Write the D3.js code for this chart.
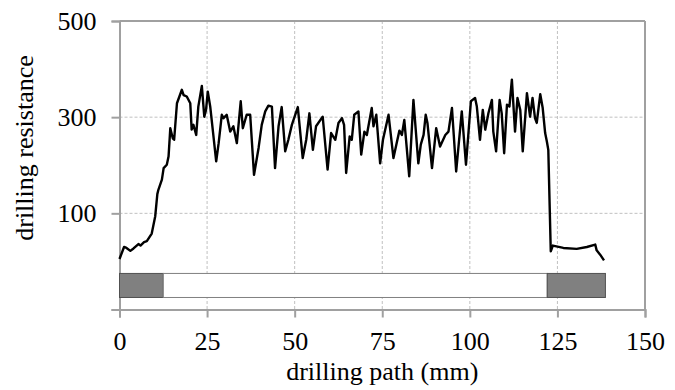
<!DOCTYPE html>
<html>
<head>
<meta charset="utf-8">
<script src="https://cdn.jsdelivr.net/npm/d3@7"></script>
<style>
  html, body { margin: 0; padding: 0; background: #fff; }
  svg { display: block; }
</style>
</head>
<body>
<svg id="chart" width="675" height="390" font-family="'Liberation Serif', 'DejaVu Serif', serif"></svg>
<script>
// ---- data ----
const depth = [0, 1.3, 2.0, 3.1, 4.0, 5.4, 6.0, 7.0, 7.8, 9.2, 10.2, 10.8, 11.1, 12.1, 12.6, 13.5, 14.0, 14.5, 15.2, 15.6, 16.4, 17.8, 18.3, 19.2, 20.2, 20.6, 21.1, 21.9, 22.5, 23.5, 24.2, 24.7, 25.2, 25.9, 27.6, 28.3, 29.2, 29.7, 30.6, 31.6, 32.5, 33.5, 34.6, 35.2, 36.3, 37.3, 38.4, 39.7, 40.6, 41.6, 42.5, 43.5, 44.4, 45.4, 46.3, 47.3, 48.2, 49.2, 50.9, 52.3, 53.3, 54.2, 55.2, 56.1, 58.0, 59.4, 60.4, 61.6, 62.5, 63.5, 64.1, 64.7, 65.7, 66.3, 67.0, 68.2, 69.0, 69.9, 70.6, 72.0, 72.5, 73.3, 74.4, 75.2, 76.8, 78.2, 79.2, 79.9, 80.6, 81.3, 82.7, 83.9, 85.3, 86.0, 86.8, 87.4, 87.9, 89.2, 90.4, 91.5, 93.0, 93.9, 94.9, 96.1, 97.7, 98.9, 100.3, 101.5, 102.0, 102.9, 103.7, 104.4, 105.3, 106.3, 106.7, 107.5, 108.5, 109.1, 109.8, 110.6, 111.3, 112.0, 112.9, 113.6, 114.4, 115.1, 116.3, 117.2, 117.9, 118.6, 119.1, 120.1, 120.8, 121.5, 122.0, 122.4, 123.1, 123.7, 126.7, 130.5, 133.4, 135.8, 136.2, 137.2, 138.3];
const resistance = [5, 30, 28, 22, 27, 36, 33, 40, 42, 58, 94, 140, 149, 170, 194, 201, 218, 277, 256, 253, 329, 357, 346, 343, 329, 274, 284, 263, 322, 365, 301, 315, 353, 322, 208, 246, 305, 298, 305, 270, 281, 246, 333, 277, 305, 305, 180, 236, 284, 312, 324, 322, 194, 281, 321, 229, 253, 284, 321, 215, 253, 308, 232, 281, 301, 191, 267, 253, 288, 298, 284, 184, 260, 253, 305, 312, 222, 270, 263, 319, 281, 305, 204, 253, 305, 215, 249, 272, 263, 294, 177, 336, 204, 243, 263, 305, 288, 194, 277, 239, 263, 270, 319, 187, 312, 201, 333, 340, 322, 253, 315, 274, 308, 336, 270, 229, 336, 308, 225, 326, 322, 378, 270, 340, 315, 229, 350, 301, 340, 298, 288, 348, 319, 267, 249, 232, 21, 33, 28, 26, 30, 35, 23, 14, 2];

const xTicks = [0, 25, 50, 75, 100, 125, 150];
const yTicks = [-100, 100, 300, 500];
const yTickLabels = ["", "100", "300", "500"];

// bar beneath the profile: segment limits (mm) and kind
const segStart = [0, 12.5, 122.1];
const segEnd = [12.5, 122.1, 138.7];
const segKind = ["outer", "inner", "outer"];
const barLow = -75, barHigh = -25;

// ---- layout ----
const FONT = "'Liberation Serif', 'DejaVu Serif', serif";
const FS = 26;
const L = 119.5, R = 645, T = 21, B = 309.5;
const svg = d3.select("#chart");
const x = d3.scaleLinear().domain([0, 150]).range([L, R]);
const y = d3.scaleLinear().domain([-100, 500]).range([B, T]);

const axisGray = "#a0a0a0";
const gridGray = "#c0c0c0";

// grid
svg.append("g").selectAll("line")
  .data(xTicks.filter(d => d > 0 && d < 150))
  .join("line")
  .attr("x1", d => x(d)).attr("x2", d => x(d))
  .attr("y1", T).attr("y2", B)
  .attr("stroke", gridGray).attr("stroke-width", 1).attr("stroke-dasharray", "3,2");
svg.append("g").selectAll("line")
  .data(yTicks.filter(d => d > -100 && d < 500))
  .join("line")
  .attr("x1", L).attr("x2", R)
  .attr("y1", d => y(d)).attr("y2", d => y(d))
  .attr("stroke", gridGray).attr("stroke-width", 1).attr("stroke-dasharray", "3,2");

// frame top/right
svg.append("line").attr("x1", L).attr("x2", R).attr("y1", T).attr("y2", T)
  .attr("stroke", axisGray).attr("stroke-width", 2);
svg.append("line").attr("x1", R).attr("x2", R).attr("y1", T).attr("y2", B)
  .attr("stroke", axisGray).attr("stroke-width", 2);

// axes
const xAxis = d3.axisBottom(x).tickValues(xTicks).tickSize(8).tickPadding(14).tickFormat(d3.format("d"));
const gx = svg.append("g").attr("transform", `translate(0,${B})`).call(xAxis);
const yAxis = d3.axisLeft(y).tickValues(yTicks).tickSize(8).tickPadding(15)
  .tickFormat((d, i) => yTickLabels[i]);
const gy = svg.append("g").attr("transform", `translate(${L},0)`).call(yAxis);
[gx, gy].forEach(g => {
  g.attr("font-family", FONT).attr("font-size", FS);
  g.select(".domain").attr("stroke", axisGray).attr("stroke-width", 2);
  g.selectAll(".tick line").attr("stroke", axisGray).attr("stroke-width", 2);
  g.selectAll(".tick text").attr("font-family", FONT).attr("font-size", FS).attr("fill", "#000");
});
gy.selectAll(".tick text").attr("dy", "0.33em");

// bar segments
svg.append("g").selectAll("rect")
  .data(segStart.map((s, i) => ({ s, e: segEnd[i], k: segKind[i] })))
  .join("rect")
  .attr("x", d => x(d.s)).attr("width", d => x(d.e) - x(d.s))
  .attr("y", y(barHigh)).attr("height", y(barLow) - y(barHigh))
  .attr("fill", d => d.k === "outer" ? "#808080" : "#ffffff")
  .attr("stroke", d => d.k === "outer" ? "#505050" : "#808080")
  .attr("stroke-width", 1);

// profile line
const pts = depth.map((d, i) => [d, resistance[i]]);
svg.append("path").datum(pts)
  .attr("fill", "none").attr("stroke", "#000").attr("stroke-width", 2.4)
  .attr("stroke-linejoin", "round")
  .attr("d", d3.line().x(d => x(d[0])).y(d => y(d[1])));

// axis titles
svg.append("text").attr("x", (L + R) / 2).attr("y", 380)
  .attr("text-anchor", "middle").attr("font-family", FONT).attr("font-size", FS)
  .attr("fill", "#000").text("drilling path (mm)");
svg.append("text").attr("transform", `translate(33,148) rotate(-90)`)
  .attr("text-anchor", "middle").attr("font-family", FONT).attr("font-size", FS)
  .attr("fill", "#000").text("drilling resistance");
</script>
</body>
</html>
